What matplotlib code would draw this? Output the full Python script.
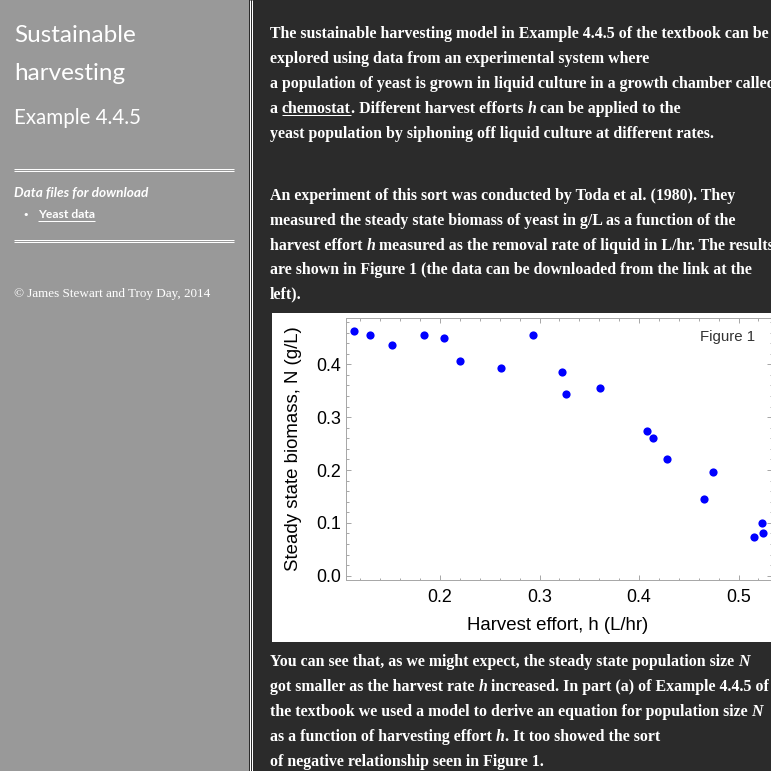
import matplotlib
matplotlib.use("Agg")
import matplotlib.pyplot as plt
from matplotlib.lines import Line2D
from matplotlib.patches import Rectangle
from matplotlib.ticker import MultipleLocator, FormatStrFormatter

# ---------------- data ----------------
harvest_effort = [0.114, 0.130, 0.152, 0.184, 0.204, 0.220, 0.261, 0.293,
                  0.3225, 0.3265, 0.361, 0.408, 0.414, 0.428, 0.465, 0.474,
                  0.516, 0.524, 0.525]
biomass = [0.463, 0.455, 0.437, 0.455, 0.449, 0.407, 0.393, 0.455,
           0.386, 0.344, 0.355, 0.273, 0.260, 0.221, 0.145, 0.196,
           0.073, 0.100, 0.081]
x_label = "Harvest effort, h (L/hr)"
y_label = "Steady state biomass, N (g/L)"
fig_tag = "Figure 1"

sidebar_title = ["Sustainable", "harvesting"]
sidebar_sub = "Example 4.4.5"
sidebar_files = "Data files for download"
sidebar_link = "Yeast data"
sidebar_copy = "\u00a9 James Stewart and Troy Day, 2014"

para1 = [
    [("The sustainable harvesting model in Example 4.4.5 of the textbook can be", "")],
    [("explored using data from an experimental system where", "")],
    [("a population of yeast is grown in liquid culture in a growth chamber called", "")],
    [("a ", ""), ("chemostat", "u"), (". Different harvest efforts ", ""), ("h", "i"),
     (" can be applied to the", "")],
    [("yeast population by siphoning off liquid culture at different rates.", "")],
]
para2 = [
    [("An experiment of this sort was conducted by Toda et al. (1980). They", "")],
    [("measured the steady state biomass of yeast in g/L as a function of the", "")],
    [("harvest effort ", ""), ("h", "i"),
     (" measured as the removal rate of liquid in L/hr. The results", "")],
    [("are shown in Figure 1 (the data can be downloaded from the link at the", "")],
    [("left).", "")],
]
para3 = [
    [("You can see that, as we might expect, the steady state population size ", ""), ("N", "i")],
    [("got smaller as the harvest rate ", ""), ("h", "i"),
     (" increased. In part (a) of Example 4.4.5 of", "")],
    [("the textbook we used a model to derive an equation for population size ", ""), ("N", "i")],
    [("as a function of harvesting effort ", ""), ("h", "i"), (". It too showed the sort", "")],
    [("of negative relationship seen in Figure 1.", "")],
]

# ---------------- page canvas ----------------
W = H = 771
fig = plt.figure(figsize=(W / 100, H / 100), dpi=100)
fig.patch.set_facecolor("#2b2b2b")
renderer = fig.canvas.get_renderer()


def fx(x):
    return x / W


def fy(y):
    return 1 - y / H


def rect(x0, y0, x1, y1, color):
    fig.add_artist(Rectangle((fx(x0), fy(y1)), (x1 - x0) / W, (y1 - y0) / H,
                             transform=fig.transFigure, facecolor=color,
                             edgecolor="none", zorder=-2))


def line(x0, y0, x1, y1, color="white", lw=1.0):
    fig.add_artist(Line2D([fx(x0), fx(x1)], [fy(y0), fy(y1)],
                          transform=fig.transFigure, color=color,
                          lw=lw * 0.72, zorder=2, solid_capstyle="butt"))


def adv(s, **kw):
    t = fig.text(0, 0, s + "|", **kw)
    a = t.get_window_extent(renderer).width
    t.remove()
    t = fig.text(0, 0, "|", **kw)
    b = t.get_window_extent(renderer).width
    t.remove()
    return a - b


def fit(s, target, **kw):
    return 20 * target / adv(s, fontsize=20, **kw)


def draw_runs(x, y, parts, base, color="white"):
    for s, style in parts:
        kw = dict(base)
        if "i" in style:
            kw["style"] = "italic"
        fig.text(fx(x), fy(y), s, va="baseline", ha="left", color=color, **kw)
        w = adv(s, **kw)
        if "u" in style:
            line(x, y + 2.5, x + w, y + 2.5, color=color, lw=1)
        x += w


# sidebar
rect(0, 0, 249, H, "#999999")
line(249.5, 0, 249.5, H, "white", 1)
line(251.5, 0, 251.5, H, "white", 1)

sans = "Lato"
fs_t = fit(sidebar_title[0], 122, family=sans)
fig.text(fx(14), fy(42), sidebar_title[0], family=sans, fontsize=fs_t,
         color="white", va="baseline")
fig.text(fx(14), fy(79.5), sidebar_title[1], family=sans, fontsize=fs_t,
         color="white", va="baseline")
fs_s = fit(sidebar_sub, 127, family=sans)
fig.text(fx(14), fy(124.5), sidebar_sub, family=sans, fontsize=fs_s,
         color="white", va="baseline")

for yy in (168.5, 170.5, 239.5, 241.5):
    line(14, yy, 234, yy, "white", 1)

fs_f = fit(sidebar_files, 134, family=sans, weight="bold", style="italic")
fig.text(fx(14), fy(197), sidebar_files, family=sans, fontsize=fs_f,
         weight="bold", style="italic", color="white", va="baseline")
fig.text(fx(25.5), fy(217.5), "\u2022", family="DejaVu Sans", fontsize=8,
         color="white", va="baseline", ha="center")
fs_l = fit(sidebar_link, 57, family=sans, weight="bold")
draw_runs(38, 218, [(sidebar_link, "u")],
          dict(family=sans, fontsize=fs_l, weight="bold"))
fs_c = fit(sidebar_copy, 197, family="Liberation Serif")
fig.text(fx(14), fy(297.5), sidebar_copy, family="Liberation Serif", fontsize=fs_c,
         color="white", va="baseline")

# main text
serif = "Liberation Serif"
fs_m = fit(para1[0][0][0], 498, family=serif, weight="bold")
base = dict(family=serif, fontsize=fs_m, weight="bold")
for i, parts in enumerate(para1):
    draw_runs(270, 37.7 + 25 * i, parts, base)
for i, parts in enumerate(para2):
    draw_runs(270, 200.5 + 24.5 * i, parts, base)
for i, parts in enumerate(para3):
    draw_runs(270, 666 + 25 * i, parts, base)

# chart panel
rect(272, 313, W + 2, 642, "white")

ax = fig.add_axes([fx(346), fy(580), (772 - 346) / W, (580 - 318) / H])
ax.set_facecolor("none")
ax.plot(harvest_effort, biomass, "o", color="#0000ff", markersize=5.9,
        markeredgewidth=0, zorder=3)
ax.set_xlim(0.1055, 0.5336)
ax.set_ylim(-0.0081, 0.4876)
ax.xaxis.set_major_locator(MultipleLocator(0.1))
ax.xaxis.set_minor_locator(MultipleLocator(0.02))
ax.yaxis.set_major_locator(MultipleLocator(0.1))
ax.yaxis.set_minor_locator(MultipleLocator(0.02))
ax.xaxis.set_major_formatter(FormatStrFormatter("%.1f"))
ax.yaxis.set_major_formatter(FormatStrFormatter("%.1f"))
spc = "#a8a8a8"
for sp in ax.spines.values():
    sp.set_color(spc)
    sp.set_linewidth(0.72)
ax.tick_params(which="both", direction="in", top=True, right=True,
               color=spc, width=0.72)
ax.tick_params(which="major", length=3.6)
ax.tick_params(which="minor", length=1.8)
ax.tick_params(axis="x", pad=6.8)
ax.tick_params(axis="y", pad=3.6)
chart_font = "Liberation Sans"
for lab in ax.get_xticklabels() + ax.get_yticklabels():
    lab.set_family(chart_font)
    lab.set_fontsize(12.9)
    lab.set_color("black")

fig.text(fx(558), fy(630), x_label, family=chart_font, fontsize=13.4,
         ha="center", va="baseline", color="black")
fig.text(fx(293), fy(449), y_label, family=chart_font, fontsize=13.4,
         ha="center", va="center", rotation=90, color="black")
fig.text(fx(755), fy(341), fig_tag, family=chart_font, fontsize=10.8,
         ha="right", va="baseline", color="#333333")

fig.savefig("out.png", dpi=100, facecolor=fig.get_facecolor())
